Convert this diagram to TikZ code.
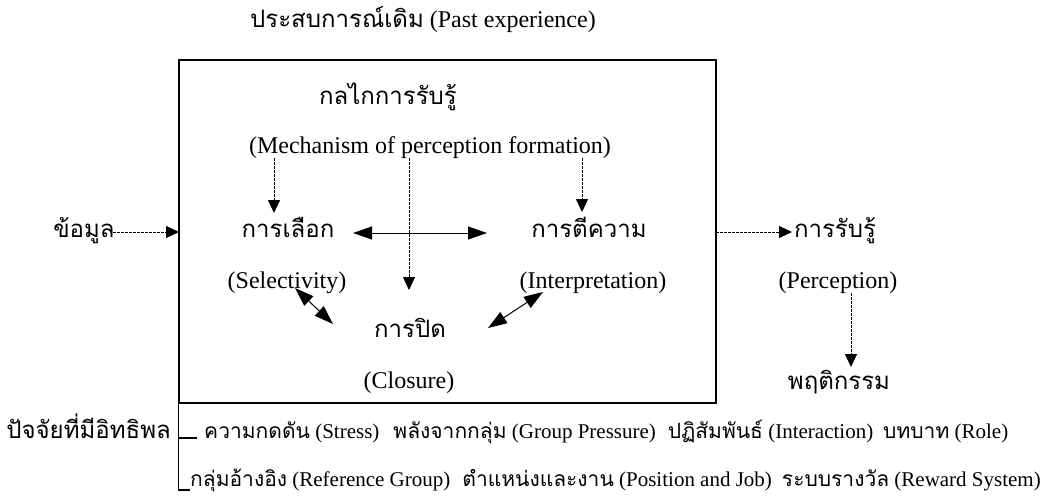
\documentclass[tikz,border=0pt]{standalone}
\usepackage{fontspec}
\setmainfont{Liberation Serif}
\newfontfamily\tf[Script=Thai,Scale=1.0]{Loma}
\usetikzlibrary{arrows.meta}
\tikzset{
  txt/.style={inner sep=0pt, anchor=base, font=\fontsize{24}{28}\selectfont},
  smalltxt/.style={inner sep=0pt, anchor=base west, font=\fontsize{21}{25}\selectfont},
  dasharrow/.style={line width=0.8pt, dash pattern=on 2.5pt off 1.5pt, -{Triangle[length=13pt,width=12pt]}},
  solidboth/.style={line width=1pt, {Triangle[length=19pt,width=13pt]}-{Triangle[length=19pt,width=13pt]}},
  frame/.style={line width=1.3pt}
}
\begin{document}
\begin{tikzpicture}[x=1pt,y=-1pt]
\useasboundingbox (0,0) rectangle (1040,495);
% main box
\node[draw, frame, minimum width=537pt, minimum height=343pt, inner sep=0pt] (box) at (447.5,231.5) {};
% texts
\node[txt] (title) at (423,28) {{\tf ประสบการณ์เดิม} (Past experience)};
\node[txt] (mechth) at (388,104) {\tf กลไกการรับรู้};
\node[txt] (mechen) at (430,153) {(Mechanism of perception formation)};
\node[txt] (selth) at (288,237) {\tf การเลือก};
\node[txt] (intth) at (589,237) {\tf การตีความ};
\node[txt] (selen) at (287,288) {(Selectivity)};
\node[txt] (inten) at (593,288) {(Interpretation)};
\node[txt] (cloth) at (410,337) {\tf การปิด};
\node[txt] (cloen) at (409,388) {(Closure)};
\node[txt] (info) at (84,237) {\tf ข้อมูล};
\node[txt] (percth) at (835,237) {\tf การรับรู้};
\node[txt] (percen) at (838,288) {(Perception)};
\node[txt] (beh) at (839,389) {\tf พฤติกรรม};
\node[txt, anchor=base east] (fact) at (171,438) {\tf ปัจจัยที่มีอิทธิพล};
\node[smalltxt] (row1) at (204,438) {{\tf ความกดดัน} (Stress)\hspace{14pt}{\tf พลังจากกลุ่ม} (Group Pressure)\hspace{12pt}{\tf ปฏิสัมพันธ์} (Interaction)\hspace{10pt}{\tf บทบาท} (Role)};
\node[smalltxt] (row2) at (190,486) {{\tf กลุ่มอ้างอิง} (Reference Group)\hspace{12pt}{\tf ตำแหน่งและงาน} (Position and Job)\hspace{10pt}{\tf ระบบรางวัล} (Reward System)};
% coordinates for connector ends
\coordinate (m1) at (274,158); \coordinate (s1) at (274,213);
\coordinate (m2) at (409,158); \coordinate (c2) at (409,290);
\coordinate (m3) at (582,158); \coordinate (i3) at (582,212);
\coordinate (hl) at (353,233); \coordinate (hr) at (487,233);
\coordinate (sa) at (295,288); \coordinate (sb) at (333,324);
\coordinate (ia) at (488,328); \coordinate (ib) at (543,292);
\coordinate (infoE) at (113,232); \coordinate (boxW) at (179,232);
\coordinate (boxE) at (716,232); \coordinate (percW) at (792,232);
\coordinate (pa) at (851,293); \coordinate (pb) at (851,367);
% connectors
\draw[dasharrow] (m1) -- (s1);
\draw[dasharrow] (m2) -- (c2);
\draw[dasharrow] (m3) -- (i3);
\draw[solidboth] (hl) -- (hr);
\draw[solidboth] (sa) -- (sb);
\draw[solidboth] (ia) -- (ib);
\draw[dasharrow] (infoE) -- (boxW);
\draw[dasharrow] (boxE) -- (percW);
\draw[dasharrow] (pa) -- (pb);
% factor bracket
\coordinate (tick) at (197,438);
\coordinate (lend) at (190,490);
\draw[frame] (box.south west) |- (lend);
\draw[line width=1.2pt] (box.south west |- tick) -- (tick);
\end{tikzpicture}
\end{document}
